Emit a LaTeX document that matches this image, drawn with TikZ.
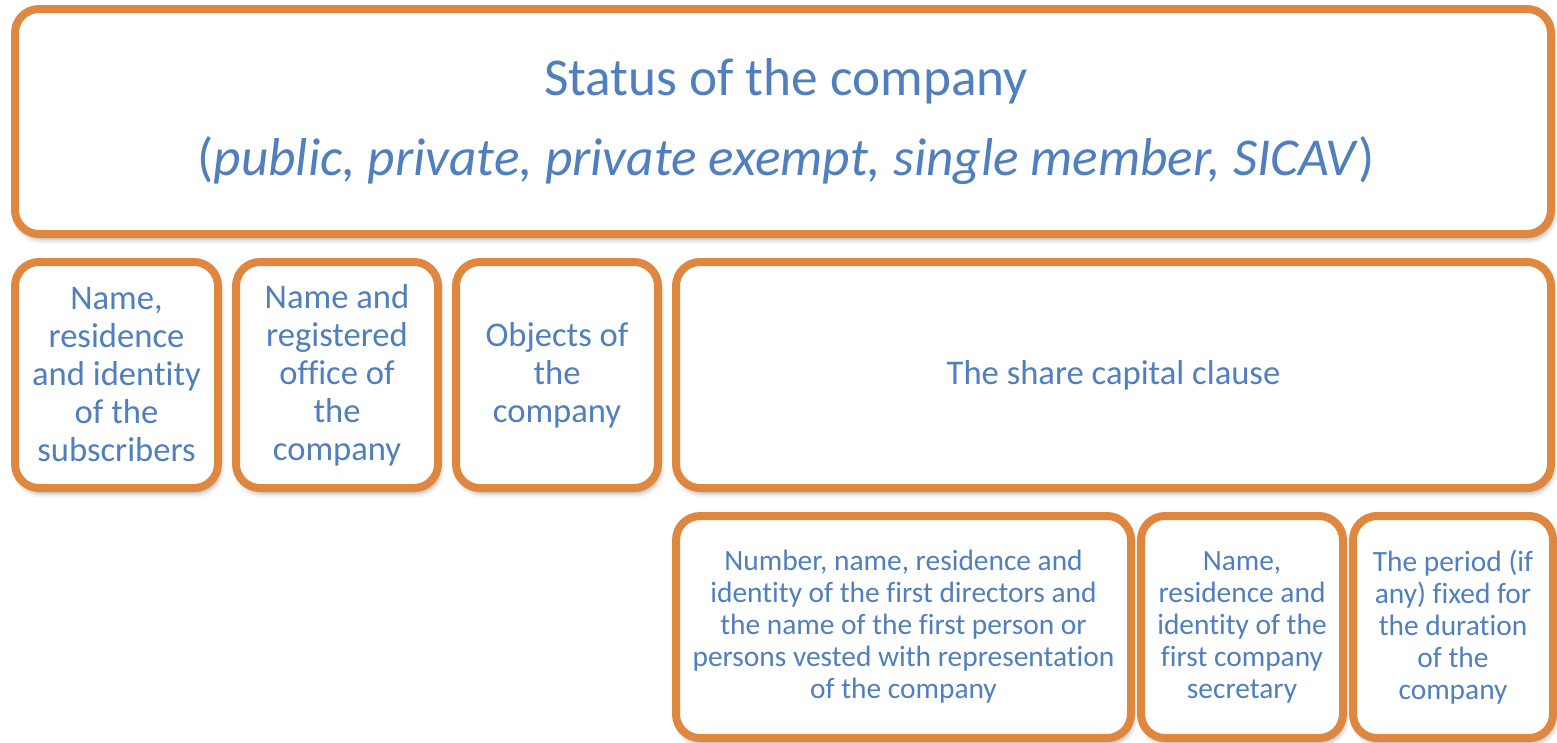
\documentclass[tikz,border=0pt]{standalone}
\usepackage{fontspec}
\setmainfont[Ligatures=NoCommon]{Carlito}
\usetikzlibrary{shadows.blur}
\definecolor{boxorange}{HTML}{E0873F}
\definecolor{textblue}{HTML}{4F7FBE}
\begin{document}
\begin{tikzpicture}[x=1pt, y=-1pt,
    itembox/.style={draw=boxorange, fill=white, line width=8pt, rounded corners=24pt,
        text=textblue, align=center, inner sep=0pt,
        blur shadow={shadow xshift=2pt, shadow yshift=-5pt, shadow blur radius=5pt, shadow opacity=35}},
    titletext/.style={text=textblue, font=\fontsize{53.3}{53.3}\selectfont},
    midtext/.style={font=\fontsize{34.6}{38}\selectfont},
    lowtext/.style={font=\fontsize{29.4}{32}\selectfont}]
    \useasboundingbox (0,0) rectangle (1557,742);

    % Title box
    \node[itembox, minimum width=1536pt, minimum height=225pt] (status) at (783, 121.5) {};
    \node[titletext] (statustitle) at (786, 81) {Status of the company};
    \node[titletext] (statustypes) at (786, 161)
        {(\textit{public, private, private exempt, single member, SICAV})};

    % Middle row
    \node[itembox, midtext, minimum width=203pt, minimum height=226pt] (subscribers) at (116.5, 375)
        {Name,\\residence\\and identity\\of the\\subscribers};
    \node[itembox, midtext, minimum width=202pt, minimum height=226pt] (office) at (337, 375)
        {Name and\\registered\\office of\\the\\company};
    \node[itembox, midtext, minimum width=202pt, minimum height=226pt] (objects) at (557, 375)
        {Objects of\\the\\company};
    \node[itembox, midtext, minimum width=875pt, minimum height=226pt] (capital) at (1113.5, 375)
        {The share capital clause};

    % Lower row
    \node[itembox, lowtext, minimum width=455pt, minimum height=222pt] (directors) at (903.5, 627)
        {Number, name, residence and\\identity of the first directors and\\the name of the first person or\\persons vested with representation\\of the company};
    \node[itembox, lowtext, minimum width=202pt, minimum height=222pt] (secretary) at (1242, 627)
        {Name,\\residence and\\identity of the\\first company\\secretary};
    \node[itembox, lowtext, minimum width=200pt, minimum height=222pt] (duration) at (1453, 627)
        {The period (if\\any) fixed for\\the duration\\of the\\company};
\end{tikzpicture}
\end{document}
